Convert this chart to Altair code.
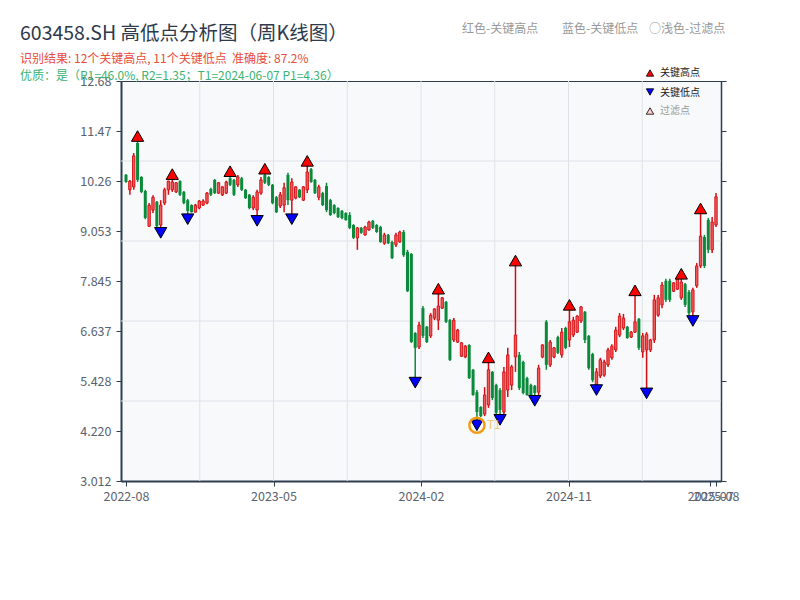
import altair as alt
import pandas as pd

# ---------------- data (weekly K-line) ----------------
opens = [10.41, 10.05, 10.12, 11.18, 10.36, 10.02, 9.17, 9.56, 9.76, 9.20,
         9.73, 10.05, 10.05, 10.00, 10.26, 10.00, 9.80, 9.68, 9.51, 9.61,
         9.68, 9.73, 10.07, 10.29, 9.97, 9.93, 9.97, 10.33, 10.29, 10.17,
         10.33, 10.05, 9.93, 9.61, 9.56, 9.97, 10.41, 10.36, 10.17, 9.87,
         9.66, 9.68, 10.41, 9.80, 9.85, 10.05, 9.80, 10.05, 10.55, 10.29,
         9.87, 9.97, 10.14, 9.80, 9.68, 9.61, 9.54, 9.49, 9.44, 9.20,
         8.89, 9.13, 8.96, 9.08, 9.30, 9.20, 9.15, 8.76, 8.96, 8.79,
         8.72, 8.79, 9.03, 8.55, 8.50, 6.59, 6.25, 7.19, 6.74, 6.52,
         6.95, 6.90, 7.19, 7.34, 6.90, 6.42, 6.37, 6.03, 6.01, 6.30,
         5.70, 5.16, 4.80, 4.63, 4.85, 5.65, 5.33, 5.21, 4.68, 5.21,
         5.33, 6.01, 6.06, 5.89, 5.50, 5.33, 5.31, 5.16, 6.01, 6.86,
         5.82, 6.01, 6.49, 6.06, 6.71, 6.42, 6.54, 6.61, 6.88, 7.10,
         6.52, 6.08, 5.31, 5.55, 5.57, 5.82, 5.99, 6.18, 6.54, 6.71,
         6.74, 6.49, 6.61, 6.93, 6.13, 6.18, 6.18, 6.42, 7.02, 7.27,
         7.85, 7.85, 7.60, 7.65, 7.44, 7.77, 7.58, 7.10, 7.73, 8.21,
         8.91, 9.32, 8.60, 9.20]
highs = [10.43, 10.29, 10.94, 11.35, 10.38, 10.05, 9.73, 9.92, 9.78, 9.80,
         10.10, 10.27, 10.43, 10.24, 10.28, 10.02, 9.83, 9.70, 9.71, 9.80,
         9.82, 10.00, 10.10, 10.31, 10.24, 10.14, 10.27, 10.50, 10.31, 10.41,
         10.36, 10.07, 9.95, 9.92, 10.05, 10.36, 10.56, 10.38, 10.19, 9.90,
         10.00, 10.22, 10.46, 10.33, 10.14, 10.07, 10.14, 10.75, 10.58, 10.31,
         10.17, 10.00, 10.22, 9.83, 9.70, 9.63, 9.56, 9.51, 9.51, 9.22,
         9.15, 9.15, 9.18, 9.30, 9.32, 9.22, 9.18, 9.01, 8.98, 8.82,
         9.01, 9.06, 9.08, 8.60, 8.52, 6.61, 6.86, 7.24, 6.76, 7.07,
         7.19, 7.66, 7.46, 7.36, 6.93, 6.95, 6.69, 6.37, 6.30, 6.32,
         5.72, 5.21, 4.82, 5.28, 6.00, 5.67, 5.36, 5.26, 5.77, 6.23,
         5.82, 8.34, 6.13, 5.92, 5.53, 5.36, 5.33, 5.82, 6.32, 6.90,
         6.42, 6.25, 6.52, 6.71, 6.74, 7.27, 6.98, 7.02, 7.24, 7.12,
         6.54, 6.11, 5.74, 5.99, 5.94, 6.23, 6.32, 6.74, 7.07, 7.05,
         6.76, 6.64, 7.62, 6.95, 6.59, 6.61, 6.45, 7.51, 7.51, 7.82,
         7.90, 7.90, 7.82, 7.94, 8.02, 7.80, 7.63, 7.68, 8.28, 9.60,
         8.96, 9.37, 9.39, 9.97]
lows = [10.22, 9.93, 10.05, 10.24, 9.97, 9.34, 9.15, 9.49, 9.15, 9.01,
        9.68, 9.93, 10.00, 9.97, 9.90, 9.70, 9.34, 9.50, 9.50, 9.58,
        9.66, 9.70, 9.90, 9.95, 9.95, 9.90, 9.95, 10.14, 9.90, 10.12,
        10.02, 9.83, 9.58, 9.56, 9.30, 9.93, 10.19, 10.14, 9.70, 9.49,
        9.61, 9.51, 9.68, 9.34, 9.82, 9.85, 9.78, 9.97, 10.22, 9.95,
        9.80, 9.66, 9.51, 9.42, 9.46, 9.37, 9.34, 9.30, 9.10, 8.86,
        8.60, 8.99, 8.94, 9.06, 9.10, 9.01, 8.77, 8.72, 8.74, 8.38,
        8.67, 8.77, 8.43, 7.58, 6.35, 5.39, 6.20, 6.47, 6.35, 6.47,
        6.90, 6.66, 7.17, 6.83, 5.91, 6.37, 6.35, 6.01, 5.98, 5.48,
        5.07, 4.36, 4.56, 4.58, 4.78, 4.97, 4.63, 4.49, 4.58, 5.04,
        5.21, 5.65, 5.21, 5.11, 5.07, 5.07, 4.95, 5.09, 5.98, 5.70,
        5.77, 5.98, 6.08, 5.99, 6.20, 6.25, 6.49, 6.59, 6.83, 6.35,
        5.70, 5.40, 5.21, 5.50, 5.53, 5.77, 5.94, 6.13, 6.49, 6.66,
        6.45, 6.47, 6.59, 6.18, 5.99, 5.13, 6.13, 6.35, 6.98, 7.19,
        7.34, 7.34, 7.58, 7.63, 7.39, 7.22, 7.02, 6.88, 7.68, 8.16,
        8.16, 8.52, 8.52, 9.15]
closes = [10.24, 10.26, 10.87, 10.29, 10.00, 9.37, 9.68, 9.87, 9.17, 9.68,
          10.05, 10.26, 10.24, 10.22, 9.93, 9.73, 9.54, 9.51, 9.68, 9.78,
          9.78, 9.97, 9.93, 9.97, 10.22, 10.12, 10.24, 10.17, 9.93, 10.36,
          10.05, 9.85, 9.61, 9.87, 10.00, 10.29, 10.22, 10.17, 9.73, 9.51,
          9.93, 10.10, 9.80, 10.24, 10.12, 9.87, 10.12, 10.48, 10.24, 9.97,
          10.12, 9.68, 9.56, 9.44, 9.49, 9.39, 9.37, 9.32, 9.13, 8.89,
          9.13, 9.01, 9.15, 9.27, 9.13, 9.03, 8.79, 8.96, 8.76, 8.40,
          8.96, 9.03, 8.47, 7.60, 6.37, 6.23, 6.78, 6.52, 6.37, 7.02,
          7.17, 7.24, 7.44, 6.86, 5.94, 6.90, 6.66, 6.35, 6.27, 5.50,
          5.09, 4.68, 4.58, 5.09, 5.70, 5.02, 4.66, 4.73, 5.65, 6.06,
          5.77, 6.54, 5.26, 5.14, 5.09, 5.09, 5.14, 5.74, 6.30, 5.82,
          6.37, 6.23, 6.11, 6.61, 6.23, 6.86, 6.90, 7.00, 7.22, 6.42,
          5.74, 5.45, 5.65, 5.94, 5.89, 6.18, 6.27, 6.66, 7.00, 6.95,
          6.47, 6.61, 6.86, 6.23, 6.52, 6.56, 6.42, 7.39, 7.44, 7.75,
          7.39, 7.39, 7.80, 7.90, 7.82, 7.27, 7.07, 7.63, 8.21, 8.93,
          8.21, 8.60, 9.27, 9.88]

high_idx = [3, 12, 27, 36, 47, 81, 94, 101, 115, 132, 144, 149]
low_idx = [9, 16, 34, 43, 75, 91, 97, 106, 122, 135, 147]
t1_idx = 91
t1_price = 4.36

x_tick_values = [0, 38.25, 76.5, 114.75, 151.5, 153]
x_tick_labels = ["2022-08", "2023-05", "2024-02", "2024-11", "2025-07", "2025-08"]
x_grid = [19.125, 38.25, 57.375, 76.5, 95.625, 114.75, 133.875]
y_tick_values = [3.012, 4.220, 5.428, 6.637, 7.845, 9.053, 10.26, 11.47, 12.68]
y_grid = [4.946, 6.879, 8.813, 10.746]

TITLE = "603458.SH 高低点分析图（周K线图）"
LINE1 = "识别结果: 12个关键高点, 11个关键低点\u00a0\u00a0准确度: 87.2%"
LINE2 = "优质：是（R1=46.0%, R2=1.35；T1=2024-06-07 P1=4.36）"
TOP_NOTES = ["红色-关键高点", "蓝色-关键低点", "○浅色-过滤点"]
LEGEND_LABELS = ["关键高点", "关键低点", "过滤点"]

# ---------------- styling ----------------
FONT = "Noto Sans CJK SC"
AX = "#2c3e50"
RED = "#d40d12"
RED_FILL = "#ef5a5a"
GREEN = "#0a8a3a"
LBL = "#5a6270"

N = len(opens)
df = pd.DataFrame({"idx": list(range(N)), "open": opens, "high": highs,
                   "low": lows, "close": closes})

xs = alt.Scale(domain=[0, 153], nice=False, zero=False)
ys = alt.Scale(domain=[3.012, 12.68], nice=False, zero=False)

label_expr = " : ".join(
    f"datum.value == {v} ? '{l}'" for v, l in zip(x_tick_values, x_tick_labels)
) + " : ''"

x_axis = alt.Axis(values=x_tick_values, labelExpr=label_expr, title=None, grid=False,
                  orient="bottom", domainColor=AX, domainWidth=2, tickColor=AX,
                  tickSize=5, labelColor=LBL, labelFontSize=12.5, labelFont=FONT,
                  labelPadding=4, labelOverlap=False, labelFlush=False)
y_left = alt.Axis(values=y_tick_values, format=".4g", title=None, grid=False,
                  orient="left", domainColor=AX, domainWidth=2, tickColor=AX,
                  tickSize=5, labelColor=LBL, labelFontSize=12.5, labelFont=FONT,
                  labelPadding=5, labelOverlap=False)
y_right = alt.Axis(values=y_tick_values, labels=False, title=None, grid=False,
                   orient="right", domainColor=AX, domainWidth=1.5, tickColor=AX,
                   tickSize=5)

X = alt.X("idx:Q", scale=xs, axis=x_axis)

vgrid = alt.Chart(pd.DataFrame({"gx": x_grid})).mark_rule(
    color="#dfe3e8", strokeWidth=1).encode(x=alt.X("gx:Q", scale=xs, axis=x_axis))
hgrid = alt.Chart(pd.DataFrame({"gy": y_grid})).mark_rule(
    color="#dfe3e8", strokeWidth=1).encode(y=alt.Y("gy:Q", scale=ys, axis=None))

base = alt.Chart(df)
up = base.transform_filter("datum.close >= datum.open")
dn = base.transform_filter("datum.close < datum.open")

wick_up = up.mark_rule(color=RED, strokeWidth=1.5).encode(
    x=X, y=alt.Y("low:Q", scale=ys, axis=y_left), y2="high:Q")
wick_dn = dn.mark_rule(color=GREEN, strokeWidth=1.5).encode(
    x=X, y=alt.Y("low:Q", scale=ys, axis=None), y2="high:Q")
body_up = up.mark_bar(size=2.4, fill=RED_FILL, stroke=RED, strokeWidth=0.9).encode(
    x=X, y=alt.Y("open:Q", scale=ys, axis=y_right), y2="close:Q")
body_dn = dn.mark_bar(size=3, color=GREEN).encode(
    x=X, y=alt.Y("open:Q", scale=ys, axis=None), y2="close:Q")

hi_df = pd.DataFrame({"idx": high_idx, "price": [highs[i] for i in high_idx]})
lo_df = pd.DataFrame({"idx": low_idx, "price": [lows[i] for i in low_idx]})

hi_mk = alt.Chart(hi_df).mark_point(shape="triangle-up", size=150, filled=True,
                                    fill="#ff0000", stroke="#000", strokeWidth=1,
                                    opacity=1, fillOpacity=1).encode(
    x=X, y=alt.Y("price:Q", scale=ys, axis=None))
lo_mk = alt.Chart(lo_df).mark_point(shape="triangle-down", size=150, filled=True,
                                    fill="#0000ff", stroke="#000", strokeWidth=1,
                                    opacity=1, fillOpacity=1).encode(
    x=X, y=alt.Y("price:Q", scale=ys, axis=None))

t1_df = pd.DataFrame({"idx": [t1_idx], "price": [t1_price], "lab": ["T1"]})
t1_ring = alt.Chart(t1_df).mark_point(shape="circle", size=230, filled=False,
                                      stroke="#f39c12", strokeWidth=2.5, opacity=1).encode(
    x=X, y=alt.Y("price:Q", scale=ys, axis=None))
t1_txt = alt.Chart(t1_df).mark_text(align="left", baseline="middle", dx=10,
                                    fontSize=12, font=FONT, color="#f5b041",
                                    opacity=0.7).encode(
    x=X, y=alt.Y("price:Q", scale=ys, axis=None), text="lab:N")

one = pd.DataFrame({"a": [0]})


def txt(s, x, y, size, color, baseline="middle"):
    return alt.Chart(one).mark_text(text=s, align="left", baseline=baseline,
                                    fontSize=size, font=FONT, color=color).encode(
        x=alt.value(x), y=alt.value(y))


def sym(shape, fill, x, y):
    return alt.Chart(one).mark_point(shape=shape, size=55, filled=True, fill=fill,
                                     stroke="#000", strokeWidth=0.8, opacity=1,
                                     fillOpacity=1).encode(
        x=alt.value(x), y=alt.value(y))


texts = [
    txt(TITLE, -101, -41, 19.5, "#2e3a4b", baseline="alphabetic"),
    txt(LINE1, -101, -22, 12, "#e74c3c"),
    txt(LINE2, -101, -5, 12, "#3cb371"),
    txt(TOP_NOTES[0], 341, -52, 12, "#999"),
    txt(TOP_NOTES[1], 441, -52, 12, "#999"),
    txt(TOP_NOTES[2], 528, -52, 12, "#999"),
    sym("triangle-up", "#ff0000", 529, -8),
    txt(LEGEND_LABELS[0], 539, -8, 10, "#222"),
    sym("triangle-down", "#0000ff", 529, 11),
    txt(LEGEND_LABELS[1], 539, 12, 10, "#222"),
    sym("triangle-up", "#ffcccc", 529, 30),
    txt(LEGEND_LABELS[2], 539, 30, 10, "#999"),
]

chart = alt.layer(
    vgrid, hgrid, wick_up, wick_dn, body_up, body_dn, hi_mk, lo_mk, t1_ring, t1_txt,
    *texts
).resolve_axis(y="independent").properties(
    width=600, height=400,
    autosize=alt.AutoSizeParams(type="none"),
    padding={"left": 113, "top": 73, "right": 70, "bottom": 110},
).configure_view(fill="#f7f9fb", stroke=AX, strokeWidth=1)

chart.save("out.html", embed_options={"renderer": "svg", "actions": False})
